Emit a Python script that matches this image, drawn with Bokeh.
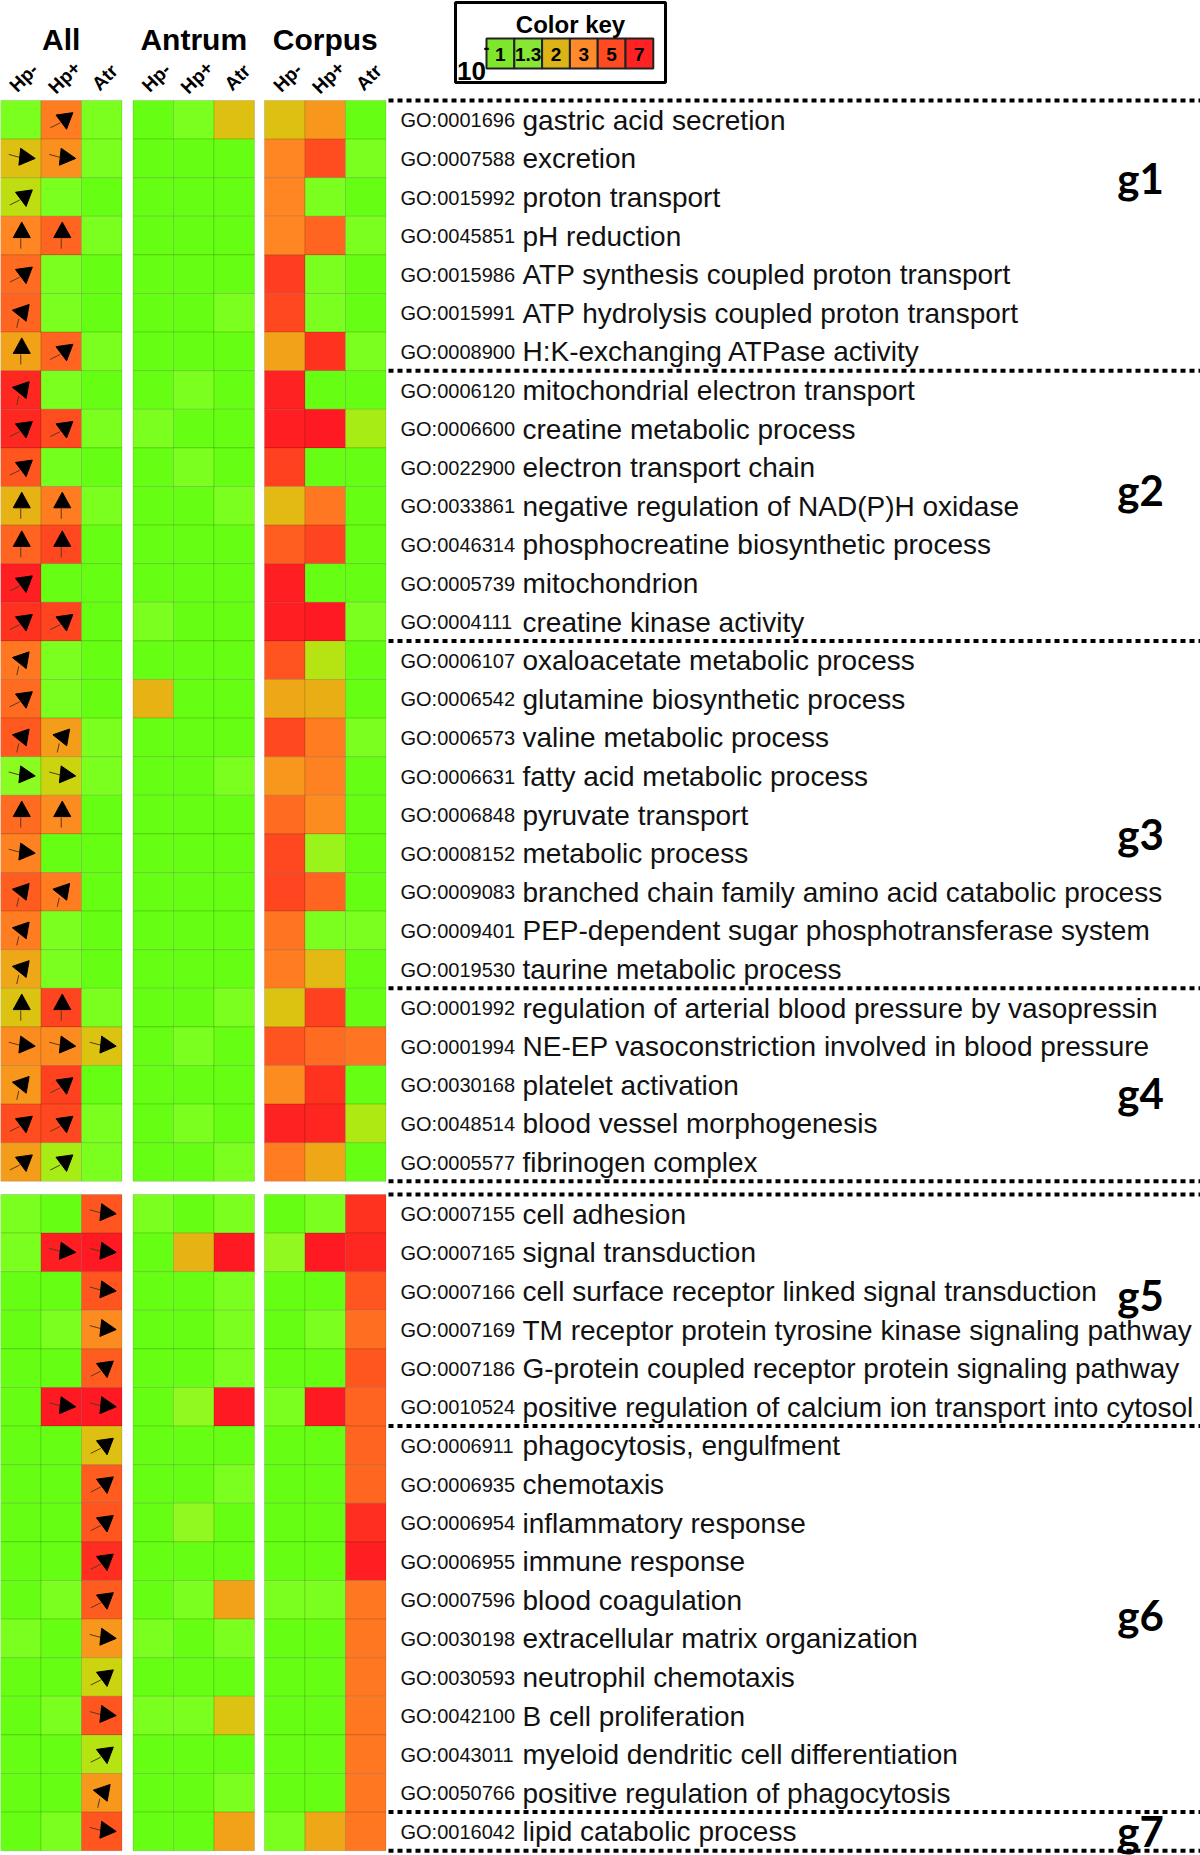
import numpy as np
from bokeh.plotting import figure
from bokeh.models import Range1d, ColumnDataSource, LinearColorMapper
from bokeh.core.properties import value
from bokeh.transform import transform
from bokeh.embed import file_html
from bokeh.resources import INLINE

# ---------------- data ----------------
go_ids = ["GO:0001696", "GO:0007588", "GO:0015992", "GO:0045851", "GO:0015986", "GO:0015991", "GO:0008900",
          "GO:0006120", "GO:0006600", "GO:0022900", "GO:0033861", "GO:0046314", "GO:0005739", "GO:0004111",
          "GO:0006107", "GO:0006542", "GO:0006573", "GO:0006631", "GO:0006848", "GO:0008152", "GO:0009083",
          "GO:0009401", "GO:0019530",
          "GO:0001992", "GO:0001994", "GO:0030168", "GO:0048514", "GO:0005577",
          "GO:0007155", "GO:0007165", "GO:0007166", "GO:0007169", "GO:0007186", "GO:0010524",
          "GO:0006911", "GO:0006935", "GO:0006954", "GO:0006955", "GO:0007596", "GO:0030198", "GO:0030593",
          "GO:0042100", "GO:0043011", "GO:0050766",
          "GO:0016042"]
terms = ["gastric acid secretion", "excretion", "proton transport", "pH reduction",
         "ATP synthesis coupled proton transport", "ATP hydrolysis coupled proton transport",
         "H:K-exchanging ATPase activity",
         "mitochondrial electron transport", "creatine metabolic process", "electron transport chain",
         "negative regulation of NAD(P)H oxidase", "phosphocreatine biosynthetic process", "mitochondrion",
         "creatine kinase activity",
         "oxaloacetate metabolic process", "glutamine biosynthetic process", "valine metabolic process",
         "fatty acid metabolic process", "pyruvate transport", "metabolic process",
         "branched chain family amino acid catabolic process", "PEP-dependent sugar phosphotransferase system",
         "taurine metabolic process",
         "regulation of arterial blood pressure by vasopressin", "NE-EP vasoconstriction involved in blood pressure",
         "platelet activation", "blood vessel morphogenesis", "fibrinogen complex",
         "cell adhesion", "signal transduction", "cell surface receptor linked signal transduction",
         "TM receptor protein tyrosine kinase signaling pathway",
         "G-protein coupled receptor protein signaling pathway",
         "positive regulation of calcium ion transport into cytosol",
         "phagocytosis, engulfment", "chemotaxis", "inflammatory response", "immune response",
         "blood coagulation", "extracellular matrix organization", "neutrophil chemotaxis",
         "B cell proliferation", "myeloid dendritic cell differentiation", "positive regulation of phagocytosis",
         "lipid catabolic process"]
group_names = ["g1", "g2", "g3", "g4", "g5", "g6", "g7"]
group_sizes = [7, 7, 9, 5, 6, 10, 1]
block_rows = [28, 17]          # rows in upper and lower panel

tissues = ["All", "Antrum", "Corpus"]
conditions = ["Hp-", "Hp+", "Atr"]

# -log10(p) per column (45 rows each)
all_hpn = [1.1, 2.0, 1.7, 3.0, 3.8, 4.0, 2.5, 6.5, 6.5, 4.5, 2.2, 4.0, 7.0, 6.0,
           3.4, 3.8, 4.4, 1.25, 3.8, 3.1, 4.3, 3.3, 2.4, 1.95, 2.9, 2.7, 4.8, 2.6,
           1.1, 1.1, 0.5, 0.5, 0.5, 0.5, 0.5, 0.5, 0.5, 0.5, 0.5, 1.1, 0.5, 0.5, 0.5, 0.5, 0.5]
all_hpp = [3.3, 2.8, 1.1, 4.0, 1.1, 1.1, 4.0, 1.1, 4.8, 1.0, 3.3, 5.0, 0.5, 5.2,
           1.1, 1.1, 2.6, 1.8, 2.9, 0.5, 3.3, 1.1, 1.1, 5.2, 2.9, 5.3, 5.0, 1.5,
           0.5, 7.0, 0.5, 1.1, 0.5, 7.2, 0.5, 0.5, 0.5, 0.5, 1.1, 0.5, 0.5, 1.1, 0.5, 0.5, 1.1]
all_atr = [1.1, 1.1, 0.5, 1.1, 0.5, 0.5, 1.1, 0.5, 1.1, 0.5, 1.1, 0.5, 0.5, 0.5,
           0.5, 0.5, 1.1, 1.1, 0.5, 0.5, 0.5, 0.5, 0.5, 1.1, 1.95, 0.5, 1.1, 1.1,
           4.5, 7.2, 4.5, 2.9, 4.3, 7.2, 2.0, 4.3, 4.5, 6.2, 4.3, 2.7, 1.8, 4.5, 1.6, 2.7, 4.5]
antrum_hpn = [0.5, 0.5, 0.5, 0.5, 0.5, 0.5, 0.5, 0.5, 1.1, 0.5, 0.5, 0.5, 0.5, 1.1,
              0.5, 2.2, 0.5, 0.5, 0.5, 0.5, 0.5, 0.5, 0.5, 0.5, 0.5, 0.5, 0.5, 0.5,
              1.1, 0.5, 0.5, 0.5, 0.5, 0.5, 0.5, 0.5, 0.5, 0.5, 0.5, 1.1, 0.5, 1.1, 0.5, 0.5, 0.5]
antrum_hpp = [1.1, 0.5, 0.5, 0.5, 0.5, 0.5, 0.5, 1.1, 0.5, 1.1, 0.5, 0.5, 0.5, 0.5,
              0.5, 0.5, 0.5, 0.5, 0.5, 0.5, 0.5, 0.5, 0.5, 0.5, 1.1, 0.5, 1.1, 0.5,
              0.5, 2.2, 0.5, 0.5, 0.5, 1.3, 0.5, 0.5, 1.3, 0.5, 1.1, 0.5, 0.5, 1.1, 0.5, 0.5, 0.5]
antrum_atr = [2.0, 0.5, 0.5, 0.5, 0.5, 1.1, 0.5, 0.5, 0.5, 0.5, 1.1, 0.5, 0.5, 0.5,
              0.5, 0.5, 0.5, 1.1, 0.5, 0.5, 0.5, 0.5, 0.5, 1.1, 0.5, 0.5, 0.5, 1.1,
              1.1, 7.2, 1.1, 1.1, 1.1, 7.2, 0.5, 1.1, 0.5, 0.5, 2.5, 1.1, 0.5, 1.95, 0.5, 1.1, 2.5]
corpus_hpn = [2.0, 3.0, 3.0, 3.0, 5.5, 5.0, 2.5, 6.8, 7.0, 5.3, 2.1, 4.2, 7.0, 7.0,
              4.6, 2.4, 5.0, 2.7, 3.8, 5.0, 5.1, 3.5, 3.3, 1.95, 4.6, 2.9, 6.8, 3.3,
              0.5, 1.3, 0.5, 0.5, 0.5, 1.1, 0.5, 0.5, 0.5, 0.5, 1.1, 0.5, 0.5, 0.5, 0.5, 0.5, 1.1]
corpus_hpp = [2.7, 4.8, 1.1, 4.0, 1.1, 1.1, 6.0, 0.5, 7.2, 0.5, 3.4, 5.2, 0.5, 7.2,
              1.6, 2.3, 3.3, 3.1, 2.9, 1.4, 4.0, 1.1, 2.1, 5.3, 3.8, 6.0, 6.6, 2.4,
              1.1, 7.2, 0.5, 1.1, 0.5, 7.2, 0.5, 0.5, 0.5, 0.5, 1.1, 0.5, 0.5, 0.5, 0.5, 0.5, 2.4]
corpus_atr = [0.5, 1.1, 0.5, 1.1, 0.5, 0.5, 1.1, 0.5, 1.5, 0.5, 0.5, 0.5, 0.5, 1.1,
              0.5, 0.5, 1.1, 0.5, 0.5, 0.5, 0.5, 1.1, 0.5, 0.5, 3.5, 0.5, 1.55, 0.5,
              6.0, 6.5, 4.5, 3.7, 4.5, 4.0, 4.0, 3.9, 6.2, 7.0, 3.4, 3.4, 3.4, 3.4, 3.4, 3.4, 3.4]

# arrow glyphs shown in the "All" panel (U up, D down, L left, R right, "" none)
arrows_hpn = ["", "R", "D", "U", "D", "L", "U", "L", "D", "D", "U", "U", "D", "D",
              "L", "D", "L", "R", "U", "R", "L", "L", "L", "U", "R", "L", "D", "D",
              "", "", "", "", "", "", "", "", "", "", "", "", "", "", "", "", ""]
arrows_hpp = ["D", "R", "", "U", "", "", "D", "", "D", "", "U", "U", "", "D",
              "", "", "L", "R", "U", "", "L", "", "", "U", "R", "D", "D", "D",
              "", "R", "", "", "", "R", "", "", "", "", "", "", "", "", "", "", ""]
arrows_atr = ["", "", "", "", "", "", "", "", "", "", "", "", "", "",
              "", "", "", "", "", "", "", "", "", "", "R", "", "", "",
              "R", "R", "R", "R", "D", "R", "D", "D", "D", "D", "D", "R", "D", "R", "D", "L", "R"]

key_labels = ["1", "1.3", "2", "3", "5", "7"]
key_colors = ["#7ee62c", "#88e634", "#dcb418", "#ff8a2c", "#ff4a22", "#ff2222"]

# colour ramp anchors (value -> colour)
ramp_vals = [0.5, 1.0, 1.2, 1.5, 1.75, 2.0, 2.5, 3.0, 4.0, 5.0, 6.0, 7.0, 7.5]
ramp_cols = ["#66ff14", "#74ff1c", "#86ff24", "#a8ec14", "#c8d810", "#e0be12", "#f2a218",
             "#ff8622", "#ff6420", "#ff4820", "#ff3220", "#ff1e22", "#ff1424"]

# ---------------- layout ----------------
W, H = 1200, 1855
col_w = 40.5
block_x0 = [0, 132.5, 264]
row_h = 38.6
panel_top = [100, 1194]
sans = "Liberation Sans"


def hexrgb(h):
    return [int(h[i:i + 2], 16) for i in (1, 3, 5)]


rgb = np.array([hexrgb(c) for c in ramp_cols], dtype=float)
lo, hi = ramp_vals[0], ramp_vals[-1]
samp = np.linspace(lo, hi, 256)
palette = []
for s in samp:
    r, g, b = (np.interp(s, ramp_vals, rgb[:, k]) for k in range(3))
    palette.append("#%02x%02x%02x" % (int(round(r)), int(round(g)), int(round(b))))
mapper = LinearColorMapper(palette=palette, low=lo, high=hi)

n_rows = len(terms)
row_top = []
for i in range(n_rows):
    if i < block_rows[0]:
        row_top.append(panel_top[0] + i * row_h)
    else:
        row_top.append(panel_top[1] + (i - block_rows[0]) * row_h)
row_c = [t + row_h / 2 for t in row_top]

p = figure(width=W, height=H, x_range=Range1d(0, W), y_range=Range1d(H, 0),
           output_backend="svg", toolbar_location=None, x_axis_type=None, y_axis_type=None,
           min_border=0)
p.grid.visible = False
p.outline_line_color = None
p.background_fill_color = "white"

columns = [all_hpn, all_hpp, all_atr, antrum_hpn, antrum_hpp, antrum_atr, corpus_hpn, corpus_hpp, corpus_atr]
cx, cy, cv = [], [], []
col_centers = []
for j, col in enumerate(columns):
    b, c = divmod(j, 3)
    xc = block_x0[b] + (c + 0.5) * col_w
    col_centers.append(xc)
    for i, v in enumerate(col):
        cx.append(xc)
        cy.append(row_c[i])
        cv.append(v)
cells = ColumnDataSource(dict(x=cx, y=cy, v=cv))
p.rect("x", "y", width=col_w, height=row_h, source=cells,
       fill_color=transform("v", mapper), line_color="#000000", line_alpha=0.13, line_width=1)

# arrows: triangle head (tip direction in degrees, screen ccw from right) + thin tail
arrow_style = {  # head centre offset, tip direction, tail start, tail end
    "U": ((1, -4), 90, (0, 3), (0, 13)),
    "R": ((5, -1), -6, (-1, -1), (-12, -4)),
    "D": ((4, 0), -82, (-1, 3), (-11, 8)),
    "L": ((1, -1), 170, (-2, 6), (-4, 15)),
}
hx, hy, sx0, sy0, sx1, sy1 = [], [], [], [], [], []
for j, arr in enumerate([arrows_hpn, arrows_hpp, arrows_atr]):
    for i, a in enumerate(arr):
        if not a:
            continue
        (dx, dy), th, (ax, ay), (bx, by) = arrow_style[a]
        xc, yc = col_centers[j] + dx, row_c[i] + dy
        ux, uy = np.cos(np.deg2rad(th)), -np.sin(np.deg2rad(th))
        nx, ny = -uy, ux
        tip = (xc + 9.5 * ux, yc + 9.5 * uy)
        bcx, bcy = xc - 6 * ux, yc - 6 * uy
        hx.append([tip[0], bcx + 8.5 * nx, bcx - 8.5 * nx])
        hy.append([tip[1], bcy + 8.5 * ny, bcy - 8.5 * ny])
        sx0.append(col_centers[j] + ax)
        sy0.append(row_c[i] + ay)
        sx1.append(col_centers[j] + bx)
        sy1.append(row_c[i] + by)
p.segment(sx0, sy0, sx1, sy1, line_color="#5a3a1a", line_width=1)
p.patches(hx, hy, fill_color="black", line_color="black", line_width=1)

# headers
p.text([block_x0[b] + 1.5 * col_w for b in range(3)], [39] * 3, text=tissues,
       text_font=value(sans), text_font_style="bold", text_font_size="30px",
       text_align="center", text_baseline="middle")
sub_x, sub_t = [], []
for j in range(9):
    sub_x.append(col_centers[j] + 3)
    sub_t.append(conditions[j % 3])
p.text(sub_x, [77] * 9, text=sub_t, angle=np.deg2rad(45),
       text_font=value(sans), text_font_style="bold", text_font_size="19px",
       text_align="center", text_baseline="middle")

# row labels
lab_y = [c + 0.5 for c in row_c]
p.text([400] * n_rows, lab_y, text=go_ids, text_font=value(sans), text_font_size="20px",
       text_baseline="alphabetic", text_color="#111111")
p.text([522] * n_rows, lab_y, text=terms, text_font=value(sans), text_font_size="28px",
       text_baseline="alphabetic", text_color="#111111")

# dotted separators
bounds = []
start = 0
for s in group_sizes:
    bounds.append(start)
    start += s
bounds.append(start)
ys = []
for r in bounds:
    if r == block_rows[0]:
        ys.append(panel_top[0] + r * row_h)
        ys.append(panel_top[1])
    elif r < block_rows[0]:
        ys.append(panel_top[0] + r * row_h)
    else:
        ys.append(panel_top[1] + (r - block_rows[0]) * row_h)
p.segment([388] * len(ys), ys, [1200] * len(ys), ys, line_color="black", line_width=4, line_dash="5 4")

# group labels
label_pos = [2.0, 3.1, 5.0, 2.7, 2.6, 4.9, 0.5]   # rows from group start
gy = []
for k, s in enumerate(group_sizes):
    r = bounds[k] + label_pos[k]
    if bounds[k] < block_rows[0]:
        gy.append(panel_top[0] + r * row_h)
    else:
        gy.append(panel_top[1] + (r - block_rows[0]) * row_h)
p.text([1140] * len(gy), gy, text=group_names, text_font=value("Lato"), text_font_style="bold",
       text_font_size="42px", text_align="center", text_baseline="middle")

# colour key
p.rect([560], [42], width=210, height=80, fill_color=None, line_color="black", line_width=3)
kx = [486 + (k + 0.5) * 27.8 for k in range(len(key_labels))]
p.rect(kx, [53] * len(kx), width=27.8, height=30, fill_color=key_colors, line_color="#222222", line_width=2)
p.text(kx, [54] * len(kx), text=key_labels, text_font=value(sans), text_font_style="bold",
       text_font_size="19px", text_align="center", text_baseline="middle")
p.text([570], [24], text=["Color key"], text_font=value(sans), text_font_style="bold",
       text_font_size="24px", text_align="center", text_baseline="middle")
p.text([471], [70], text=["10"], text_font=value(sans), text_font_style="bold",
       text_font_size="26px", text_align="center", text_baseline="middle")
p.text([486], [47], text=["-"], text_font=value(sans), text_font_style="bold",
       text_font_size="18px", text_align="center", text_baseline="middle")

open("out.html", "w").write(file_html(p, INLINE))
